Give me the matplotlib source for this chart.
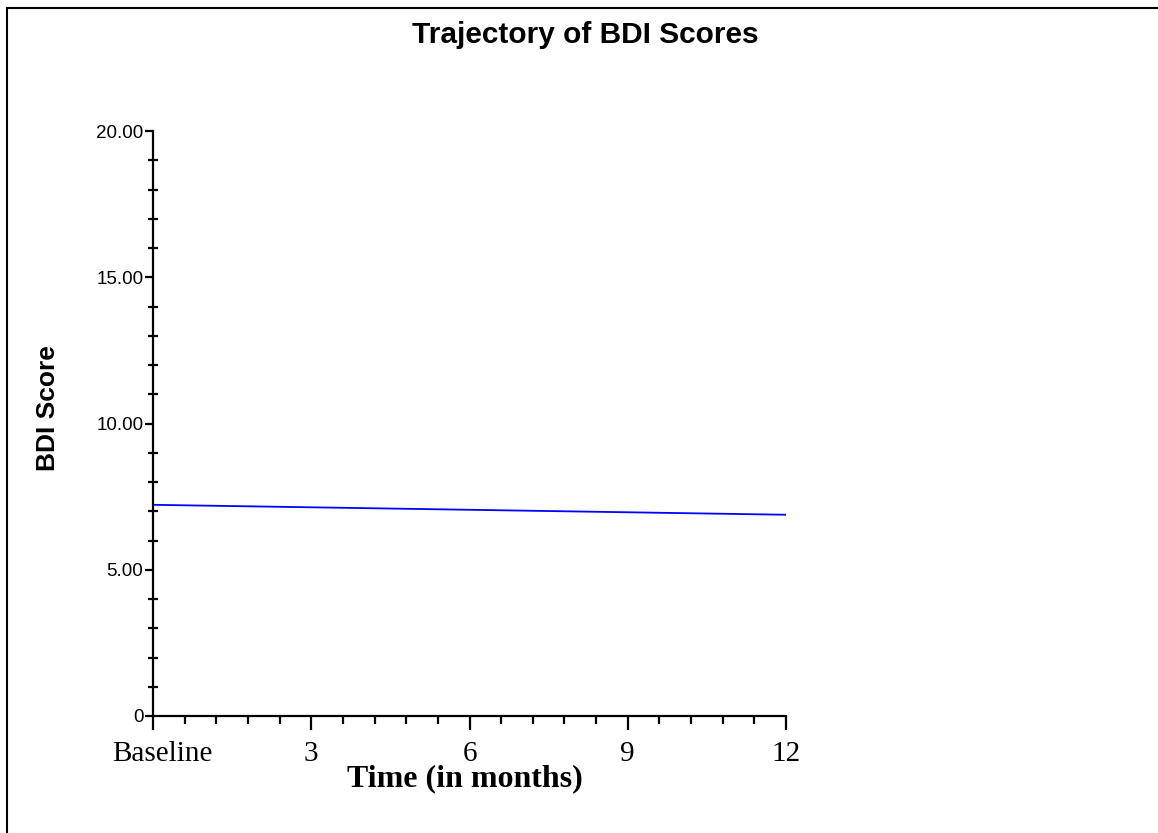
import matplotlib
matplotlib.use("Agg")
import matplotlib.pyplot as plt
import matplotlib.transforms as mtransforms
from matplotlib.lines import Line2D
import numpy as np

# data
months = [0, 12]
bdi_score = [7.22, 6.88]
x_ticks = [0, 3, 6, 9, 12]
x_labels = ["Baseline", "3", "6", "9", "12"]
y_ticks = [0, 5, 10, 15, 20]
y_labels = ["0", "5.00", "10.00", "15.00", "20.00"]

W, H = 1158, 833
fig = plt.figure(figsize=(W / 100, H / 100), dpi=100)
ax = fig.add_axes([153 / W, 1 - 716 / H, (786 - 153) / W, (716 - 131) / H])

ax.plot(months, bdi_score, color="blue", linewidth=1.3, solid_capstyle="butt")

ax.set_xlim(0, 12)
ax.set_ylim(0, 20)
for s in ["top", "right"]:
    ax.spines[s].set_visible(False)
for s in ["left", "bottom"]:
    ax.spines[s].set_linewidth(1.6)

ax.set_xticks(x_ticks)
ax.set_xticklabels(x_labels, fontfamily="Liberation Serif", fontsize=21)
ax.set_xticks(np.arange(0, 12.01, 0.6), minor=True)
ax.set_yticks(y_ticks)
ax.set_yticklabels(y_labels, fontfamily="Liberation Sans", fontsize=13.5)
ax.set_yticks(np.arange(0, 20.01, 1), minor=True)

ax.tick_params(axis="x", which="major", direction="out", length=10, width=1.6, pad=8)
ax.tick_params(axis="x", which="minor", direction="out", length=6, width=1.6)
ax.tick_params(axis="y", which="major", direction="out", length=6, width=1.6, pad=1)
ax.tick_params(axis="y", which="minor", direction="inout", length=7, width=1.6)

fig.text(465 / W, 1 - 779 / H, "Time (in months)", ha="center", va="center",
         fontfamily="Liberation Serif", fontweight="bold", fontsize=23)
fig.text(48 / W, 1 - 408 / H, "BDI Score", ha="center", va="center", rotation=90,
         fontfamily="Liberation Sans", fontweight="bold", fontsize=19)

fig.text(585 / W, 1 - 43 / H, "Trajectory of BDI Scores", ha="center", va="baseline",
         fontfamily="Liberation Sans", fontweight="bold", fontsize=21.5)

# outer frame lines (top and left)
fig.add_artist(Line2D([7 / W, 1], [1 - 8 / H, 1 - 8 / H], color="black", linewidth=1.5))
fig.add_artist(Line2D([7 / W, 7 / W], [0, 1 - 8 / H], color="black", linewidth=1.5))

# "Baseline" sits a little right of its tick
fig.canvas.draw()
base_tick = ax.xaxis.get_major_ticks()[0]
base_tick.label1.set_transform(base_tick.label1.get_transform() +
                               mtransforms.ScaledTranslation(9 / 100, 0, fig.dpi_scale_trans))

fig.savefig("out.png", dpi=100)
